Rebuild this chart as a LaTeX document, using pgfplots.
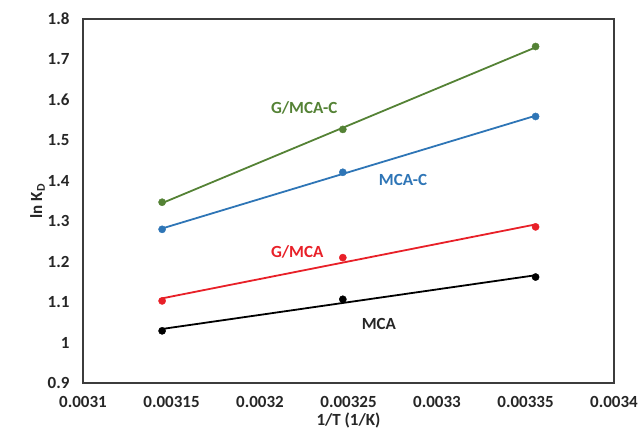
\documentclass[border=0pt]{standalone}
\usepackage{pgfplots}
\pgfplotsset{compat=1.18}
\usepackage{fontspec}
\setmainfont{Carlito}[BoldFont={Carlito Bold}]
\definecolor{cgreen}{RGB}{84,130,53}
\definecolor{cblue}{RGB}{46,117,182}
\definecolor{cred}{RGB}{232,32,40}
\definecolor{caxis}{RGB}{60,60,60}
\begin{document}
\begin{tikzpicture}
\path[use as bounding box] (-83pt,-57pt) rectangle (556pt,383pt);
\begin{axis}[
  name=ax,
  at={(0,0)}, anchor=south west,
  scale only axis, width=531pt, height=364pt,
  xmin=0.0031, xmax=0.0034, ymin=0.9, ymax=1.8,
  scaled x ticks=false, scaled y ticks=false,
  xtick={0.0031,0.00315,0.0032,0.00325,0.0033,0.00335,0.0034},
  xticklabels={0.0031,0.00315,0.0032,0.00325,0.0033,0.00335,0.0034},
  ytick={0.9,1,1.1,1.2,1.3,1.4,1.5,1.6,1.7,1.8},
  yticklabels={0.9,1,1.1,1.2,1.3,1.4,1.5,1.6,1.7,1.8},
  /pgf/number format/assume math mode=true,
  major tick length=0pt,
  axis line style={draw=none},
  ticklabel style={font=\fontsize{17}{20}\selectfont\bfseries, text=black!85},
  xticklabel style={yshift=-10pt},
  yticklabel style={xshift=-10pt},
  xlabel={\bfseries 1/T (1/K)},
  ylabel={\bfseries ln K\textsubscript{D}},
  label style={font=\fontsize{17}{20}\selectfont, text=black!85},
  xlabel style={yshift=2pt},
  ylabel style={yshift=-4pt},
  clip=false,
]
% fitted trend lines
\addplot[cgreen, line width=1.8pt] coordinates {(0.0031447,1.3448) (0.0033557,1.7299)};
\addplot[cblue, line width=1.8pt] coordinates {(0.0031447,1.2821) (0.0033557,1.5609)};
\addplot[cred, line width=1.8pt] coordinates {(0.0031447,1.1093) (0.0033557,1.2921)};
\addplot[black, line width=1.8pt] coordinates {(0.0031447,1.0336) (0.0033557,1.1665)};
% data points
\addplot[only marks, mark=*, mark size=3.6pt, cgreen] coordinates {(0.0031447,1.347) (0.0032468,1.527) (0.0033557,1.732)};
\addplot[only marks, mark=*, mark size=3.6pt, cblue] coordinates {(0.0031447,1.280) (0.0032468,1.421) (0.0033557,1.559)};
\addplot[only marks, mark=*, mark size=3.6pt, cred] coordinates {(0.0031447,1.103) (0.0032468,1.210) (0.0033557,1.286)};
\addplot[only marks, mark=*, mark size=3.6pt, black] coordinates {(0.0031447,1.029) (0.0032468,1.107) (0.0033557,1.162)};
% labels
\node[font=\fontsize{17}{20}\selectfont\bfseries, text=cgreen] at (axis cs:0.003225,1.580) {G/MCA-C};
\node[font=\fontsize{17}{20}\selectfont\bfseries, text=cblue] at (axis cs:0.0032808,1.402) {MCA-C};
\node[font=\fontsize{17}{20}\selectfont\bfseries, text=cred] at (axis cs:0.003221,1.224) {G/MCA};
\node[font=\fontsize{17}{20}\selectfont\bfseries, text=black!85] at (axis cs:0.0032672,1.047) {MCA};
\end{axis}
\draw[caxis, line width=1.5pt] (0pt,0pt) rectangle (531pt,364pt);
\end{tikzpicture}
\end{document}
